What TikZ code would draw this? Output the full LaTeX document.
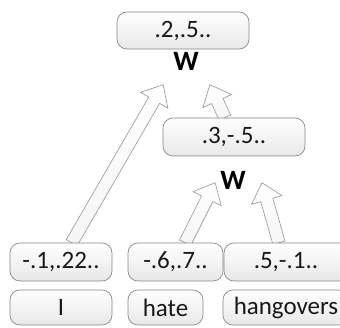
\documentclass[tikz,border=0pt]{standalone}
\usepackage{fontspec}
\setmainfont{Carlito}
\usetikzlibrary{shapes.arrows,calc}
\tikzset{
  vbox/.style={draw=black!48, rounded corners=10pt, top color=white, bottom color=black!9,
    inner sep=0pt, font=\fontsize{25}{25}\selectfont, text=black!90, line width=0.65pt},
  wlabel/.style={font=\fontsize{28}{28}\selectfont\bfseries, inner sep=0pt},
  barrow/.style={single arrow, draw=black!42, top color=white, bottom color=black!4, inner xsep=0pt, inner ysep=6pt,
    single arrow head extend=9.5pt, single arrow tip angle=83, anchor=tail, line width=0.6pt},
}
\newcommand{\blockarrow}[2]{\path let \p1=(#1), \p2=(#2),
  \n1={atan2(\y2-\y1,\x2-\x1)}, \n2={veclen(\x2-\x1,\y2-\y1)} in
  node[barrow, rotate=\n1, minimum height=\n2] at (\p1) {};}
\begin{document}
\begin{tikzpicture}[x=1pt,y=-1pt]
\useasboundingbox (0,0) rectangle (340,327);
% label nodes (positions)
\node[wlabel] (w1) at (186,61) {W};
\node[wlabel] (w2) at (233,180) {W};
\path (234,137) coordinate (midc);
\path (61,262) coordinate (v1c);
\path (175.5,262) coordinate (v2c);
\path (286,262) coordinate (v3c);
% arrow end points
\coordinate (a1s) at ($(v1c)+(10.5,-19)$);
\coordinate (a1e) at ($(w1)+(-23,24)$);
\coordinate (a2s) at ($(midc)+(-9,-19)$);
\coordinate (a2e) at ($(w1)+(24,24)$);
\coordinate (a3s) at ($(v2c)+(9.5,-19)$);
\coordinate (a3e) at ($(w2)+(-18,3)$);
\coordinate (a4s) at ($(v3c)+(-7,-19)$);
\coordinate (a4e) at ($(w2)+(29,3)$);
\blockarrow{a1s}{a1e}
\blockarrow{a2s}{a2e}
\blockarrow{a3s}{a3e}
\blockarrow{a4s}{a4e}
% boxes
\node[vbox, minimum width=132pt, minimum height=37pt] (top) at (183,30.5) {.2,.5..};
\node[vbox, minimum width=142pt, minimum height=38pt] (mid) at (midc) {.3,-.5..};
\node[vbox, minimum width=102pt, minimum height=38pt] (v1) at (v1c) {-.1,.22..};
\node[vbox, minimum width=95pt, minimum height=38pt] (v2) at (v2c) {-.6,.7..};
\node[vbox, minimum width=124pt, minimum height=38pt] (v3) at (v3c) {.5,-.1..};
\node[vbox, minimum width=102pt, minimum height=35pt] (t1) at (61,307.5) {I};
\node[vbox, minimum width=75pt, minimum height=35pt] (t2) at (165.5,307.5) {hate};
\node[vbox, minimum width=126pt, minimum height=35pt] (t3) at (286,307.5) {hangovers};
\end{tikzpicture}
\end{document}
